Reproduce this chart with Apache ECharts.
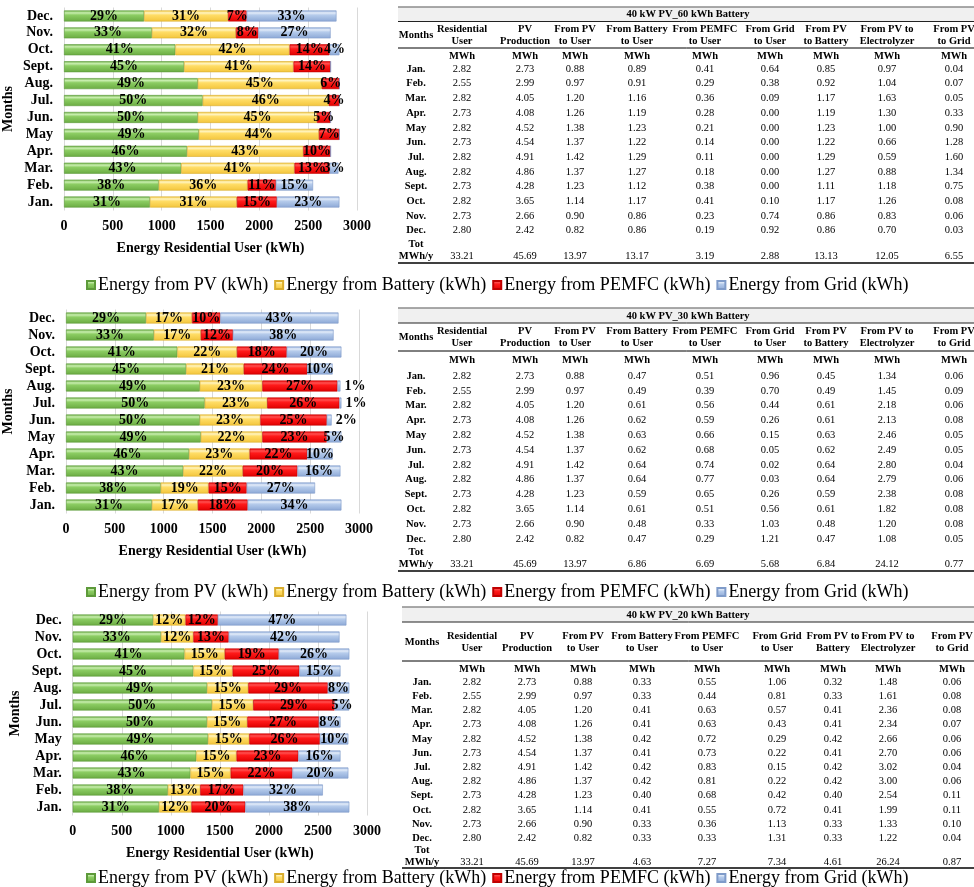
<!DOCTYPE html>
<html><head><meta charset="utf-8">
<script src="https://cdn.jsdelivr.net/npm/echarts@6/dist/echarts.min.js"></script>
<style>html,body{margin:0;padding:0;background:#fff}#c{width:974px;height:887px}</style>
</head><body><div id="c"></div>
<script>
// ---------------- DATA ----------------
const months = ['Jan.','Feb.','Mar.','Apr.','May','Jun.','Jul.','Aug.','Sept.','Oct.','Nov.','Dec.'];
const xTicks = [0, 500, 1000, 1500, 2000, 2500, 3000];
const seriesNames = ['Energy from PV (kWh)','Energy from Battery (kWh)','Energy from PEMFC (kWh)','Energy from Grid (kWh)'];
const tableTitles = ['40 kW PV_60 kWh Battery','40 kW PV_30 kWh Battery','40 kW PV_20 kWh Battery'];
const headersA = ['Months','Residential\nUser','PV\nProduction','From PV\nto User','From Battery\nto User','From PEMFC\nto User','From Grid\nto User','From PV\nto Battery','From PV to\nElectrolyzer','From PV\nto Grid'];
const headersB = ['Months','Residential\nUser','PV\nProduction','From PV\nto User','From Battery\nto User','From PEMFC\nto User','From Grid\nto User','From PV to\nBattery','From PV to\nElectrolyzer','From PV\nto Grid'];
const unitLabel = 'MWh';
const totLabel = 'Tot\nMWh/y';

// MWh, common to all configurations
const residentialUser = [2.82,2.55,2.82,2.73,2.82,2.73,2.82,2.82,2.73,2.82,2.73,2.80];
const pvProduction    = [2.73,2.99,4.05,4.08,4.52,4.54,4.91,4.86,4.28,3.65,2.66,2.42];
const pvToUser        = [0.88,0.97,1.20,1.26,1.38,1.37,1.42,1.37,1.23,1.14,0.90,0.82];

// 60 kWh battery
const batteryToUser60    = [0.89,0.91,1.16,1.19,1.23,1.22,1.29,1.27,1.12,1.17,0.86,0.86];
const pemfcToUser60      = [0.41,0.29,0.36,0.28,0.21,0.14,0.11,0.18,0.38,0.41,0.23,0.19];
const gridToUser60       = [0.64,0.38,0.09,0.00,0.00,0.00,0.00,0.00,0.00,0.10,0.74,0.92];
const pvToBattery60      = [0.85,0.92,1.17,1.19,1.23,1.22,1.29,1.27,1.11,1.17,0.86,0.86];
const pvToElectrolyzer60 = [0.97,1.04,1.63,1.30,1.00,0.66,0.59,0.88,1.18,1.26,0.83,0.70];
const pvToGrid60         = [0.04,0.07,0.05,0.33,0.90,1.28,1.60,1.34,0.75,0.08,0.06,0.03];
const totals60 = [33.21,45.69,13.97,13.17,3.19,2.88,13.13,12.05,6.55];

// 30 kWh battery
const batteryToUser30    = [0.47,0.49,0.61,0.62,0.63,0.62,0.64,0.64,0.59,0.61,0.48,0.47];
const pemfcToUser30      = [0.51,0.39,0.56,0.59,0.66,0.68,0.74,0.77,0.65,0.51,0.33,0.29];
const gridToUser30       = [0.96,0.70,0.44,0.26,0.15,0.05,0.02,0.03,0.26,0.56,1.03,1.21];
const pvToBattery30      = [0.45,0.49,0.61,0.61,0.63,0.62,0.64,0.64,0.59,0.61,0.48,0.47];
const pvToElectrolyzer30 = [1.34,1.45,2.18,2.13,2.46,2.49,2.80,2.79,2.38,1.82,1.20,1.08];
const pvToGrid30         = [0.06,0.09,0.06,0.08,0.05,0.05,0.04,0.06,0.08,0.08,0.08,0.05];
const totals30 = [33.21,45.69,13.97,6.86,6.69,5.68,6.84,24.12,0.77];

// 20 kWh battery
const batteryToUser20    = [0.33,0.33,0.41,0.41,0.42,0.41,0.42,0.42,0.40,0.41,0.33,0.33];
const pemfcToUser20      = [0.55,0.44,0.63,0.63,0.72,0.73,0.83,0.81,0.68,0.55,0.36,0.33];
const gridToUser20       = [1.06,0.81,0.57,0.43,0.29,0.22,0.15,0.22,0.42,0.72,1.13,1.31];
const pvToBattery20      = [0.32,0.33,0.41,0.41,0.42,0.41,0.42,0.42,0.40,0.41,0.33,0.33];
const pvToElectrolyzer20 = [1.48,1.61,2.36,2.34,2.66,2.70,3.02,3.00,2.54,1.99,1.33,1.22];
const pvToGrid20         = [0.06,0.08,0.08,0.07,0.06,0.06,0.04,0.06,0.11,0.11,0.10,0.04];
const totals20 = [33.21,45.69,13.97,4.63,7.27,7.34,4.61,26.24,0.87];

// percentage labels printed on the bars (%), null = no label
const pctPV        = [31,38,43,46,49,50,50,49,45,41,33,29];
const pctBattery60 = [31,36,41,43,44,45,46,45,41,42,32,31];
const pctPemfc60   = [15,11,13,10,7,5,4,6,14,14,8,7];
const pctGrid60    = [23,15,3,null,null,null,null,null,null,4,27,33];
const pctBattery30 = [17,19,22,23,22,23,23,23,21,22,17,17];
const pctPemfc30   = [18,15,20,22,23,25,26,27,24,18,12,10];
const pctGrid30    = [34,27,16,10,5,2,1,1,10,20,38,43];
const pctBattery20 = [12,13,15,15,15,15,15,15,15,15,12,12];
const pctPemfc20   = [20,17,22,23,26,27,29,29,25,19,13,12];
const pctGrid20    = [38,32,20,16,10,8,5,8,15,26,42,47];

// ---------------- BUILD ----------------
const FONT = '"Liberation Serif","Times New Roman",serif';
function grad(c0, c1, c2, c3) {
  return new echarts.graphic.LinearGradient(0, 0, 0, 1, [
    {offset: 0, color: c0}, {offset: 0.22, color: c1}, {offset: 0.42, color: c2}, {offset: 1, color: c3}
  ]);
}
const colors = [
  () => grad('#6cae45', '#c8eeae', '#8ccd63', '#6aab42'),
  () => grad('#f3c83f', '#fff4c0', '#ffdd66', '#f3c53c'),
  () => grad('#e80000', '#ff5050', '#ff1a1a', '#e00000'),
  () => grad('#8eaad8', '#e3ecf9', '#b5cbeb', '#8ca8d6')
];
const borders = ['#5d9a3a', '#d9ad2e', '#c00000', '#7f9bc9'];

const configs = [
  {vals: [pvToUser, batteryToUser60, pemfcToUser60, gridToUser60], pct: [pctPV, pctBattery60, pctPemfc60, pctGrid60],
   table: [residentialUser, pvProduction, pvToUser, batteryToUser60, pemfcToUser60, gridToUser60, pvToBattery60, pvToElectrolyzer60, pvToGrid60], totals: totals60, headers: headersA},
  {vals: [pvToUser, batteryToUser30, pemfcToUser30, gridToUser30], pct: [pctPV, pctBattery30, pctPemfc30, pctGrid30],
   table: [residentialUser, pvProduction, pvToUser, batteryToUser30, pemfcToUser30, gridToUser30, pvToBattery30, pvToElectrolyzer30, pvToGrid30], totals: totals30, headers: headersA},
  {vals: [pvToUser, batteryToUser20, pemfcToUser20, gridToUser20], pct: [pctPV, pctBattery20, pctPemfc20, pctGrid20],
   table: [residentialUser, pvProduction, pvToUser, batteryToUser20, pemfcToUser20, gridToUser20, pvToBattery20, pvToElectrolyzer20, pvToGrid20], totals: totals20, headers: headersB}
];

// layout
const grids = [
  {left: 61, top: 7.5, width: 296, height: 203, nameGap: 49},
  {left: 65, top: 309.5, width: 294, height: 204, nameGap: 51},
  {left: 72.7, top: 611.5, width: 294.3, height: 204, nameGap: 50}
];
const legendTops = [271, 578, 864];
const tables = [
  {left: 398, top: 7, titleY: 14.5, titleBottom: 21.5, headY: 35, sepY: 48, unitY: 56, rowY0: 69, step: 14.7, totY: 250.5, bottom: 263,
   cols: [416, 462, 525, 575, 637, 705, 770, 826, 887, 954]},
  {left: 398, top: 308, titleY: 316, titleBottom: 323, headY: 337, sepY: 351, unitY: 360, rowY0: 376, step: 14.8, totY: 558.5, bottom: 571,
   cols: [416, 462, 525, 575, 637, 705, 770, 826, 887, 954]},
  {left: 402, top: 607, titleY: 615, titleBottom: 622, headY: 642, sepY: 661, unitY: 669, rowY0: 682, step: 14.2, totY: 856, bottom: 868,
   cols: [422, 472, 527, 583, 642, 707, 777, 833, 888, 952]}
];

const option = {
  animation: false,
  backgroundColor: '#fff',
  textStyle: {fontFamily: FONT, color: '#000'},
  grid: [], xAxis: [], yAxis: [], series: [], legend: [], graphic: []
};

configs.forEach((cfg, gi) => {
  const g = grids[gi];
  option.grid.push({left: g.left, top: g.top, width: g.width, height: g.height, containLabel: false});
  option.xAxis.push({
    type: 'value', gridIndex: gi, min: xTicks[0], max: xTicks[xTicks.length - 1], interval: xTicks[1] - xTicks[0],
    axisLine: {show: false}, axisTick: {show: false},
    axisLabel: {fontFamily: FONT, fontWeight: 'bold', fontSize: 14, color: '#000', margin: 9, formatter: v => String(v)},
    splitLine: {show: true, lineStyle: {color: '#d9d9d9', width: 1}},
    name: 'Energy Residential User (kWh)', nameLocation: 'middle', nameGap: 31,
    nameTextStyle: {fontFamily: FONT, fontWeight: 'bold', fontSize: 14, color: '#000'}
  });
  option.yAxis.push({
    type: 'category', gridIndex: gi, data: months,
    axisLine: {show: false}, axisTick: {show: false},
    axisLabel: {fontFamily: FONT, fontWeight: 'bold', fontSize: 14, color: '#000', margin: 11, interval: 0},
    name: 'Months', nameLocation: 'middle', nameGap: g.nameGap, nameRotate: 90,
    nameTextStyle: {fontFamily: FONT, fontWeight: 'bold', fontSize: 14, color: '#000'}
  });
  cfg.vals.forEach((arr, si) => {
    const pcts = cfg.pct[si];
    option.series.push({
      type: 'bar', name: seriesNames[si], xAxisIndex: gi, yAxisIndex: gi, stack: 'u' + gi,
      barWidth: 11,
      itemStyle: {color: colors[si](), borderColor: borders[si], borderWidth: 0.6},
      data: arr.map((v, i) => {
        const kwh = Math.round(v * 1000);
        const p = pcts[i];
        return {
          value: kwh,
          label: {
            show: p != null && kwh > 0,
            position: kwh < 60 ? 'right' : 'inside',
            distance: 4,
            formatter: p != null ? p + '%' : ''
          }
        };
      }),
      label: {fontFamily: FONT, fontWeight: 'bold', fontSize: 14, color: '#000'}
    });
  });
  option.legend.push({
    left: 81, top: legendTops[gi], itemWidth: 8, itemHeight: 8, itemGap: 6,
    icon: 'rect', selectedMode: false,
    textStyle: {fontFamily: FONT, fontSize: 18, color: '#000', padding: [0, 0, 0, -2]},
    data: seriesNames
  });

  // ---- table ----
  const t = tables[gi];
  const G = option.graphic;
  const right = 980;
  G.push({type: 'rect', silent: true, shape: {x: t.left, y: t.top, width: right - t.left, height: t.titleBottom - t.top}, style: {fill: '#f0f0f0'}});
  G.push({type: 'line', silent: true, shape: {x1: t.left, y1: t.top, x2: right, y2: t.top}, style: {stroke: '#8c8c8c', lineWidth: 1.5}});
  G.push({type: 'line', silent: true, shape: {x1: t.left, y1: t.titleBottom, x2: right, y2: t.titleBottom}, style: {stroke: '#222', lineWidth: 1}});
  G.push({type: 'line', silent: true, shape: {x1: t.left, y1: t.sepY, x2: right, y2: t.sepY}, style: {stroke: '#000', lineWidth: 1}});
  G.push({type: 'line', silent: true, shape: {x1: t.left, y1: t.bottom, x2: right, y2: t.bottom}, style: {stroke: '#000', lineWidth: 1.5}});
  const txt = (s, x, y, bold, size) => G.push({
    type: 'text', silent: true, x: x, y: y,
    style: {text: s, align: 'center', verticalAlign: 'middle', fontFamily: FONT, fontWeight: bold ? 'bold' : 'normal',
            fontSize: size, lineHeight: 12, fill: '#000'}
  });
  txt(tableTitles[gi], 688, t.titleY, true, 10.5);
  cfg.headers.forEach((h, ci) => txt(h, t.cols[ci], t.headY, true, 10.5));
  for (let ci = 1; ci < t.cols.length; ci++) txt(unitLabel, t.cols[ci], t.unitY, true, 10.5);
  months.forEach((m, ri) => {
    const y = t.rowY0 + ri * t.step;
    txt(m, t.cols[0], y, true, 10.5);
    cfg.table.forEach((col, ci) => txt(col[ri].toFixed(2), t.cols[ci + 1], y, false, 10.5));
  });
  txt(totLabel, t.cols[0], t.totY, true, 10.5);
  cfg.totals.forEach((v, ci) => txt(v.toFixed(2), t.cols[ci + 1], t.totY + 6, false, 10.5));
});

const chart = echarts.init(document.getElementById('c'), null, {renderer: 'canvas'});
chart.setOption(option);
</script>
</body></html>
